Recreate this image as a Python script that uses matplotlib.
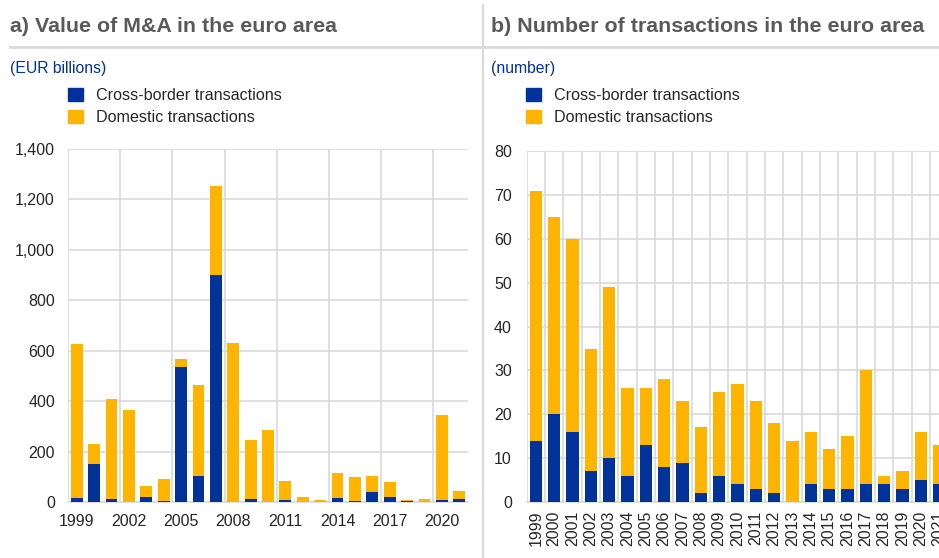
import numpy as np
import matplotlib.pyplot as plt
from matplotlib.lines import Line2D
from matplotlib.patches import Patch

plt.rcParams['font.family'] = ['Liberation Sans', 'DejaVu Sans']

years = list(range(1999, 2022))

# panel a: EUR billions
value_cross = [17, 150, 13, 1, 21, 5, 537, 103, 899, 0, 12, 0, 9, 0, 0, 17, 2, 40, 19, 4, 0, 8, 13]
value_total = [625, 229, 408, 365, 65, 91, 567, 464, 1255, 631, 245, 285, 83, 20, 8, 114, 99, 102, 81, 8, 12, 346, 45]
value_domestic = [t - c for t, c in zip(value_total, value_cross)]

# panel b: number of transactions
count_cross = [14, 20, 16, 7, 10, 6, 13, 8, 9, 2, 6, 4, 3, 2, 0, 4, 3, 3, 4, 4, 3, 5, 4]
count_total = [71, 65, 60, 35, 49, 26, 26, 28, 23, 17, 25, 27, 23, 18, 14, 16, 12, 15, 30, 6, 7, 16, 13]
count_domestic = [t - c for t, c in zip(count_total, count_cross)]

BLUE = '#003299'
YELLOW = '#FFB400'
GRID = '#d9d9d9'
TXT = '#262626'

W, H = 939, 558
fig = plt.figure(figsize=(W / 100, H / 100), dpi=100)

def fx(px): return px / W
def fy(py): return 1 - py / H

x = np.arange(len(years))

# ---- panel a
axa = fig.add_axes([fx(68), fy(502), 400 / W, 353 / H])
axa.bar(x, value_cross, width=0.68, color=BLUE, label='Cross-border transactions', zorder=3)
axa.bar(x, value_domestic, bottom=value_cross, width=0.68, color=YELLOW, label='Domestic transactions', zorder=3)
axa.set_xlim(-0.5, len(years) - 0.5)
axa.set_ylim(0, 1400)
axa.set_yticks(range(0, 1401, 200))
axa.set_yticklabels([f'{v:,}' for v in range(0, 1401, 200)])
axa.set_xticks(x[::3])
axa.set_xticklabels([str(y) for y in years[::3]])
axa.set_xticks(np.arange(-0.5, len(years), 3), minor=True)
axa.grid(axis='y', color=GRID, lw=1.2, zorder=0)
axa.grid(axis='x', which='minor', color=GRID, lw=1.2, zorder=0)
axa.tick_params(axis='both', which='both', length=0, labelsize=11.5, colors=TXT)
axa.tick_params(axis='y', pad=9.4)
axa.tick_params(axis='x', pad=8.5)
for s in ['top', 'right', 'left']:
    axa.spines[s].set_visible(False)
axa.spines['bottom'].set_color(GRID)
axa.spines['bottom'].set_linewidth(1.2)

# ---- panel b
cw = 18.33
axb = fig.add_axes([fx(526.7), fy(502), 23 * cw / W, 350.7 / H])
axb.bar(x, count_cross, width=0.67, color=BLUE, label='Cross-border transactions', zorder=3)
axb.bar(x, count_domestic, bottom=count_cross, width=0.67, color=YELLOW, label='Domestic transactions', zorder=3)
axb.set_xlim(-0.5, len(years) - 0.5)
axb.set_ylim(0, 80)
axb.set_yticks(range(0, 81, 10))
axb.set_xticks(x)
axb.set_xticklabels([str(y) for y in years], rotation=90)
axb.set_xticks(np.arange(-0.5, len(years), 1), minor=True)
axb.grid(axis='y', color=GRID, lw=1.2, zorder=0)
axb.grid(axis='x', which='minor', color=GRID, lw=1.2, zorder=0)
axb.tick_params(axis='both', which='both', length=0, labelsize=11.5, colors=TXT)
axb.tick_params(axis='y', pad=10.6)
axb.tick_params(axis='x', pad=6)
for s in ['top', 'right', 'left']:
    axb.spines[s].set_visible(False)
axb.spines['bottom'].set_color(GRID)
axb.spines['bottom'].set_linewidth(1.2)

# titles, units, rules
fig.text(fx(10), fy(27), 'a) Value of M&A in the euro area', fontsize=15.4, weight='bold',
         color='#595959', va='center', ha='left')
fig.text(fx(491), fy(27), 'b) Number of transactions in the euro area', fontsize=15.4, weight='bold',
         color='#595959', va='center', ha='left')
fig.text(fx(10), fy(69), '(EUR billions)', fontsize=11.3, color=BLUE, va='center', ha='left')
fig.text(fx(491), fy(69), '(number)', fontsize=11.3, color=BLUE, va='center', ha='left')

fig.add_artist(Line2D([fx(10), 1], [fy(46.7), fy(46.7)], color=GRID, lw=2))
fig.add_artist(Line2D([fx(482.7), fx(482.7)], [fy(5), 0], color=GRID, lw=1.5))

handles = [Patch(color=BLUE), Patch(color=YELLOW)]
labels = ['Cross-border transactions', 'Domestic transactions']
for left in (68, 526):
    fig.legend(handles, labels, loc='upper left', bbox_to_anchor=(fx(left), fy(88)),
               frameon=False, fontsize=11.6, handlelength=0.9, handleheight=0.9,
               handletextpad=0.85, labelspacing=0.4, borderaxespad=0, borderpad=0,
               labelcolor=TXT)

fig.savefig('out.png', dpi=100)
